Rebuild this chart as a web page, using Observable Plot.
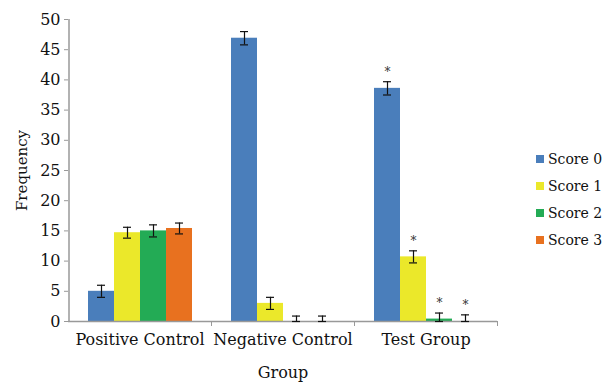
<!DOCTYPE html>
<html>
<head>
<meta charset="utf-8">
<script src="https://cdn.jsdelivr.net/npm/d3@7"></script>
<script src="https://cdn.jsdelivr.net/npm/@observablehq/plot@0.6"></script>
<style>
  body { margin: 0; background: #fff; }
  #wrap { position: relative; width: 608px; height: 386px; font-family: "DejaVu Serif", serif; }
  #legend { position: absolute; left: 536px; top: 145px; font-size: 14px; color: #111; }
  .item { display: flex; align-items: center; height: 27px; }
  .sw { width: 8px; height: 8px; margin-right: 4px; }
</style>
</head>
<body>
<div id="wrap"><div id="legend"></div></div>
<script>
const groups = ["Positive Control", "Negative Control", "Test Group"];
const scores = ["Score 0", "Score 1", "Score 2", "Score 3"];
const colors = ["#4a7ebb", "#ebe82a", "#23ab55", "#e8711f"];
const score0 = [5.0, 46.9, 38.6];
const score1 = [14.7, 3.0, 10.7];
const score2 = [15.0, 0.0, 0.4];
const score3 = [15.4, 0.0, 0.0];
const err0 = [1.0, 1.1, 1.1];
const err1 = [0.9, 1.0, 1.0];
const err2 = [1.0, 0.9, 1.0];
const err3 = [0.9, 0.9, 1.1];
const starred = ["Test Group"];
const yTicks = [0, 5, 10, 15, 20, 25, 30, 35, 40, 45, 50];

const series = [score0, score1, score2, score3];
const errs = [err0, err1, err2, err3];
const data = [];
groups.forEach((g, gi) => scores.forEach((s, si) => {
  const v = series[si][gi], e = errs[si][gi];
  data.push({group: g, score: s, value: v, lo: Math.max(0, v - e), hi: v + e});
}));
const lastScore = groups.map(g => ({group: g, score: scores[3]}));
const firstScore = [{group: groups[0], score: scores[0]}];

const chart = Plot.plot({
  width: 608,
  height: 386,
  marginLeft: 67,
  marginRight: 111,
  marginTop: 19,
  marginBottom: 65,
  style: {fontFamily: "DejaVu Serif, serif", fontSize: "14px", color: "#111", background: "transparent"},
  fx: {domain: groups, padding: 0, label: null},
  x: {domain: scores, paddingInner: 0, paddingOuter: 0.75, axis: null},
  y: {domain: [0, 50], ticks: yTicks, axis: null},
  color: {domain: scores, range: colors},
  marks: [
    Plot.barY(data, {fx: "group", x: "score", y: "value", fill: "score", inset: 0}),
    Plot.ruleY([0], {stroke: "#999", strokeWidth: 1.5}),
    Plot.ruleX(firstScore, {fx: "group", x: "score", dx: -32.5, y1: 0, y2: 50, stroke: "#999", strokeWidth: 1.5}),
    Plot.ruleX(lastScore, {fx: "group", x: "score", dx: 32, y1: 0, y2: 0, insetBottom: -5, stroke: "#999", strokeWidth: 1}),
    Plot.ruleX(data, {fx: "group", x: "score", y1: "lo", y2: "hi", stroke: "#111", strokeWidth: 1.2}),
    Plot.tickY(data, {fx: "group", x: "score", y: "lo", stroke: "#111", strokeWidth: 1.2, inset: 9}),
    Plot.tickY(data, {fx: "group", x: "score", y: "hi", stroke: "#111", strokeWidth: 1.2, inset: 9}),
    Plot.text(data.filter(d => starred.includes(d.group)), {fx: "group", x: "score", y: "hi", text: () => "*", dy: -10, fontSize: 12, fill: "#333"}),
    Plot.axisY({ticks: yTicks, tickSize: 4, tickPadding: 4, fontSize: 16, stroke: "#999", label: null}),
    Plot.axisY({ticks: [], fontSize: 15, label: "Frequency", labelAnchor: "center", labelOffset: 52, labelArrow: "none"}),
    Plot.axisFx({anchor: "bottom", tickSize: 0, tickPadding: 12, fontSize: 16, label: null}),
    Plot.axisFx({anchor: "bottom", ticks: [], fontSize: 16, label: "Group", labelAnchor: "center", labelOffset: 56, labelArrow: "none"})
  ]
});
document.getElementById("wrap").prepend(chart);

const legend = document.getElementById("legend");
scores.forEach((s, i) => {
  const item = document.createElement("div");
  item.className = "item";
  const sw = document.createElement("span");
  sw.className = "sw";
  sw.style.background = colors[i];
  const t = document.createElement("span");
  t.textContent = s;
  item.append(sw, t);
  legend.append(item);
});
</script>
</body>
</html>
